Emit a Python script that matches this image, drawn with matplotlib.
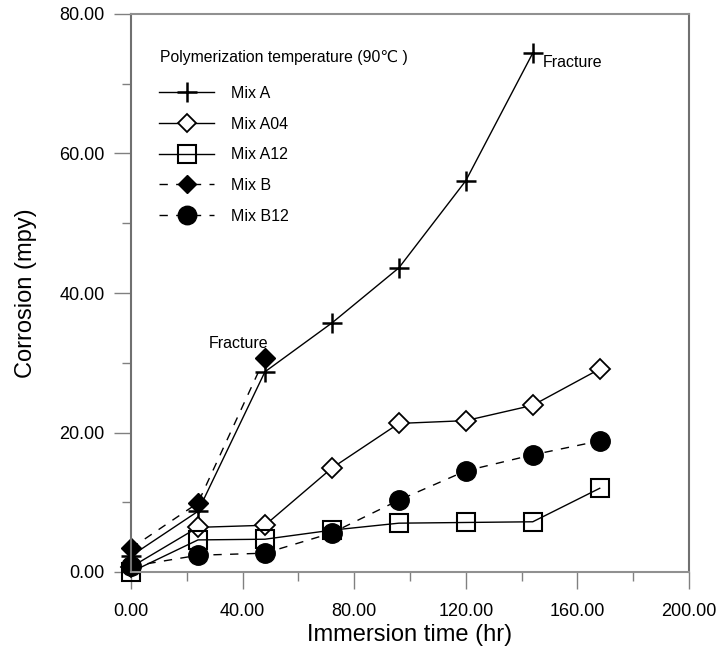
import matplotlib
matplotlib.use("Agg")
import matplotlib.pyplot as plt
from matplotlib.ticker import MultipleLocator, FormatStrFormatter

plt.rcParams['font.family'] = ['Liberation Sans', 'DejaVu Sans']

# Data
hours = [0, 24, 48, 72, 96, 120, 144, 168]
mix_a_hours = [0, 24, 48, 72, 96, 120, 144]
mix_a = [2.3, 8.7, 28.7, 35.7, 43.6, 56.1, 74.4]
mix_a04 = [0.7, 6.4, 6.7, 14.9, 21.3, 21.7, 23.9, 29.1]
mix_a12 = [0.0, 4.6, 4.7, 6.0, 7.0, 7.1, 7.2, 12.0]
mix_b_hours = [0, 24, 48]
mix_b = [3.4, 9.9, 30.7]
mix_b12 = [0.8, 2.4, 2.7, 5.6, 10.3, 14.5, 16.8, 18.8]

fig = plt.figure(figsize=(7.18, 6.52), dpi=100)
ax = fig.add_axes([131/718, 80/652, (689-131)/718, (572-14)/652])

lw = 1.0
k = 'black'
dash = (0, (6, 6))
ax.plot(mix_a_hours, mix_a, color=k, lw=lw, marker='+', ms=15, mew=1.8,
        label='Mix A', clip_on=False)
ax.plot(hours, mix_a04, color=k, lw=lw, marker='D', ms=10, mfc='white',
        mew=1.3, label='Mix A04', clip_on=False)
ax.plot(hours, mix_a12, color=k, lw=lw, marker='s', ms=13, mfc='none',
        mew=1.5, label='Mix A12', clip_on=False)
ax.plot(mix_b_hours, mix_b, color=k, lw=lw, ls=dash, marker='D',
        ms=10, label='Mix B', clip_on=False)
ax.plot(hours, mix_b12, color=k, lw=lw, ls=dash, marker='o', ms=14,
        label='Mix B12', clip_on=False)

ax.text(38.7, 32.8, 'Fracture', fontsize=11.5, ha='center', va='center')
ax.text(147.7, 73.0, 'Fracture', fontsize=11.5, ha='left', va='center')
ax.text(10.4, 73.8, 'Polymerization temperature (90℃ )', fontsize=11.3,
        ha='left', va='center')

ax.set_xlim(0, 200)
ax.set_ylim(0, 80)
ax.xaxis.set_major_locator(MultipleLocator(40))
ax.xaxis.set_minor_locator(MultipleLocator(20))
ax.yaxis.set_major_locator(MultipleLocator(20))
ax.yaxis.set_minor_locator(MultipleLocator(10))
ax.xaxis.set_major_formatter(FormatStrFormatter('%.2f'))
ax.yaxis.set_major_formatter(FormatStrFormatter('%.2f'))

for name, s in ax.spines.items():
    s.set_color('#707070' if name in ('left', 'right') else '#909090')
    s.set_linewidth(1.5)
gray = '#808080'
ax.tick_params(which='major', direction='out', length=12.5, width=1.0,
               color=gray, labelsize=13)
ax.tick_params(which='minor', direction='out', length=6.5, width=1.0,
               color=gray)
ax.tick_params(axis='x', which='major', pad=9.5)
ax.tick_params(axis='y', which='major', pad=6.5)

ax.set_xlabel('Immersion time (hr)', fontsize=17, labelpad=3)
ax.set_ylabel('Corrosion (mpy)', fontsize=17, labelpad=16)

leg = ax.legend(loc='upper left', bbox_to_anchor=(159/718, (652-86)/652),
                bbox_transform=fig.transFigure,
                frameon=False, fontsize=11.5, borderpad=0, borderaxespad=0,
                handlelength=3.45, handletextpad=1.06,
                labelspacing=0.98, markerscale=0.95)

fig.savefig('out.png', dpi=100)
